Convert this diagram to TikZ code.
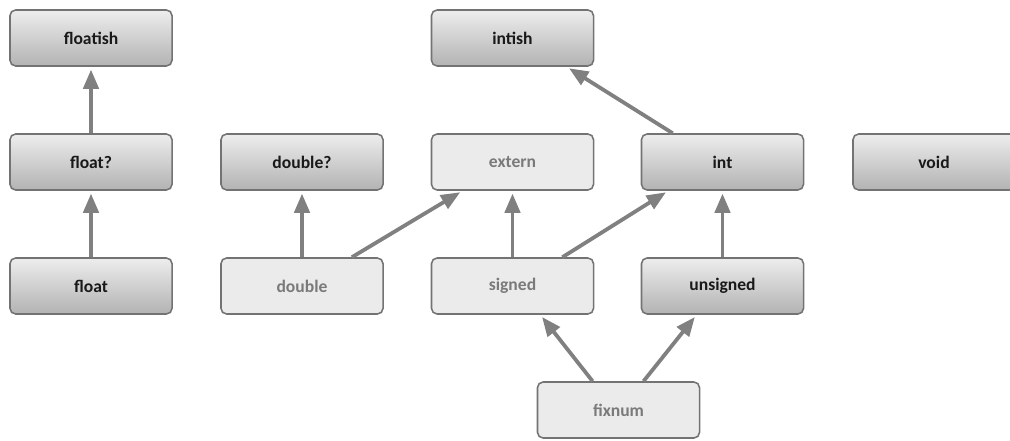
\documentclass[tikz,border=0pt]{standalone}
\usepackage{fontspec}
\setmainfont{Carlito}
\usepackage{tikz}
\usetikzlibrary{arrows.meta}

\begin{document}
\begin{tikzpicture}[x=.025cm,y=-.025cm,font=\bfseries\fontsize{12.5}{14}\selectfont]
\tikzset{box/.style={rounded corners=4pt,draw=black!55,line width=1.1pt,minimum width=4.05cm,minimum height=1.4cm,inner sep=0pt},
darkbox/.style={box,top color=black!7,bottom color=black!30,text=black!90},
lightbox/.style={box,fill=black!8,text=black!52},
link/.style={-{Triangle[length=.48cm,width=.38cm]},line width=2.7pt,draw=black!50,shorten >=2pt}}
\useasboundingbox (0,0) rectangle (1010,440);
% top row
\node[darkbox] (floatish) at (91,38) {floatish};
\node[darkbox] (intish) at (512.5,38) {intish};
% second row
\node[darkbox] (floatq) at (91,162) {float?};
\node[darkbox] (doubleq) at (302,162) {double?};
\node[lightbox] (extern) at (512.5,162) {extern};
\node[darkbox] (int) at (722.5,162) {int};
\node[darkbox] (void) at (934,162) {void};
% third row
\node[darkbox] (float) at (91,286) {float};
\node[lightbox] (double) at (302,286) {double};
\node[lightbox] (signed) at (512.5,286) {signed};
\node[darkbox] (unsigned) at (722.5,286) {unsigned};
% bottom
\node[lightbox] (fixnum) at (618.5,410) {fixnum};
% links
\draw[link] (floatq)--(floatish);
\draw[link] (float)--(floatq);
\draw[link] (double)--(doubleq);
\draw[link] (double.30)--(extern.210);
\draw[link] (signed)--(extern);
\draw[link] (signed.30)--(int.208);
\draw[link] (unsigned)--(int);
\draw[link] (int.150)--(intish.332);
\draw[link] (fixnum.132)--(signed.314);
\draw[link] (fixnum.49)--(unsigned.228);
\end{tikzpicture}
\end{document}
